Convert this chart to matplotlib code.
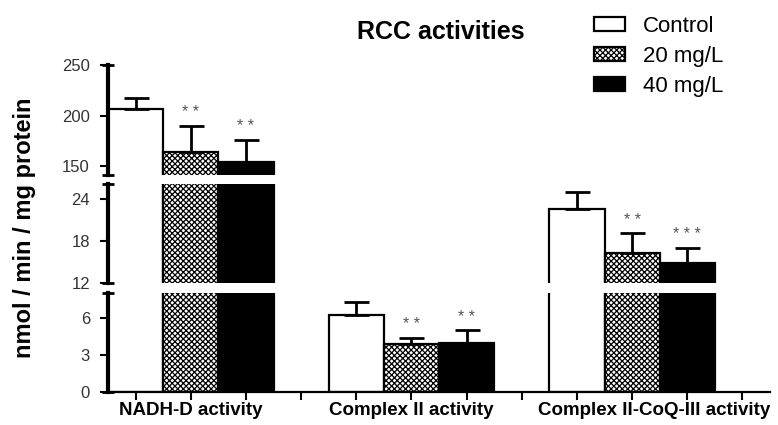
import numpy as np
import matplotlib
matplotlib.use('Agg')
import matplotlib.pyplot as plt

plt.rcParams['font.family'] = ['Liberation Sans', 'DejaVu Sans']
plt.rcParams['hatch.linewidth'] = 0.9

groups = ['NADH-D activity', 'Complex II activity', 'Complex II-CoQ-III activity']
series = ['Control', '20 mg/L', '40 mg/L']

control = [206, 6.2, 22.6]
dose20 = [164, 3.9, 16.3]
dose40 = [154, 4.0, 14.9]
err_control = [11, 1.1, 2.3]
err_dose20 = [26, 0.5, 2.8]
err_dose40 = [22, 1.0, 2.1]
stars = [['', '* *', '* *'], ['', '* *', '* *'], ['', '* *', '* * *']]

# broken y axis segments (bottom -> top)
seg_lims = [(0, 8), (12, 26.1), (141, 250)]
seg_ticks = [[0, 3, 6], [12, 18, 24], [150, 200, 250]]
seg_rects = [[0.1388, 0.0776, 0.851, 0.233],
             [0.1388, 0.334, 0.851, 0.233],
             [0.1388, 0.588, 0.851, 0.259]]

values = [control, dose20, dose40]
errors = [err_control, err_dose20, err_dose40]
styles = [dict(facecolor='white', hatch=None),
          dict(facecolor='white', hatch='xxxxxx'),
          dict(facecolor='black', hatch=None)]

fig = plt.figure(figsize=(7.78, 4.25), dpi=100)
axes = [fig.add_axes(r) for r in seg_rects]

for k, ax in enumerate(axes):
    for s in range(3):
        xs = np.arange(len(groups)) * 4 + s
        ax.bar(xs, values[s], width=1.0, edgecolor='black', linewidth=1.6,
               **styles[s])
        ax.errorbar(xs, values[s], yerr=[np.zeros(3), errors[s]], fmt='none',
                    ecolor='black', elinewidth=2, capsize=9, capthick=2)
        lo, hi = seg_lims[k]
        for g in range(len(groups)):
            top = values[s][g] + errors[s][g]
            if lo <= values[s][g] <= hi and stars[g][s]:
                ax.annotate(stars[g][s], (xs[g], top), xytext=(0, 4),
                            textcoords='offset points', ha='center', va='bottom',
                            fontsize=11.5, color='#555555')
    ax.set_ylim(*seg_lims[k])
    ax.set_yticks(seg_ticks[k])
    ax.set_xlim(-0.5, 11.5)
    for side in ['top', 'right']:
        ax.spines[side].set_visible(False)
    ax.spines['left'].set_linewidth(3)
    ax.tick_params(axis='y', direction='out', length=6, width=1.5, pad=7,
                   labelsize=12, labelcolor='#333333')
    ax.plot([0, 0], [0, 1], marker='_', ms=9, mew=2, color='black', ls='none',
            transform=ax.transAxes, clip_on=False)
    if k > 0:
        ax.spines['bottom'].set_visible(False)
        ax.set_xticks([])
    else:
        ax.spines['bottom'].set_linewidth(1.6)
        ax.set_xticks(np.arange(12))
        ax.set_xticklabels([])
        ax.tick_params(axis='x', direction='out', length=6, width=1.5)

label_pos = [1, 5, 9.4]
for g, name in enumerate(groups):
    axes[0].text(label_pos[g], -0.1, name, transform=axes[0].get_xaxis_transform(),
                 ha='center', va='top', fontsize=13.5, fontweight='bold')

fig.text(0.032, 0.463, 'nmol / min / mg protein', rotation=90, ha='center',
         va='center', fontsize=17, fontweight='bold')
fig.text(0.567, 0.925, 'RCC activities', ha='center', va='center',
         fontsize=18, fontweight='bold')

handles = [plt.Rectangle((0, 0), 1, 1, edgecolor='black', linewidth=1.6, **st)
           for st in styles]
fig.legend(handles, series, loc='upper left', bbox_to_anchor=(0.738, 1.01),
           frameon=False, fontsize=16, handlelength=1.4, handleheight=0.6,
           labelspacing=0.4, handletextpad=0.8)

fig.savefig('out.png', dpi=100)
